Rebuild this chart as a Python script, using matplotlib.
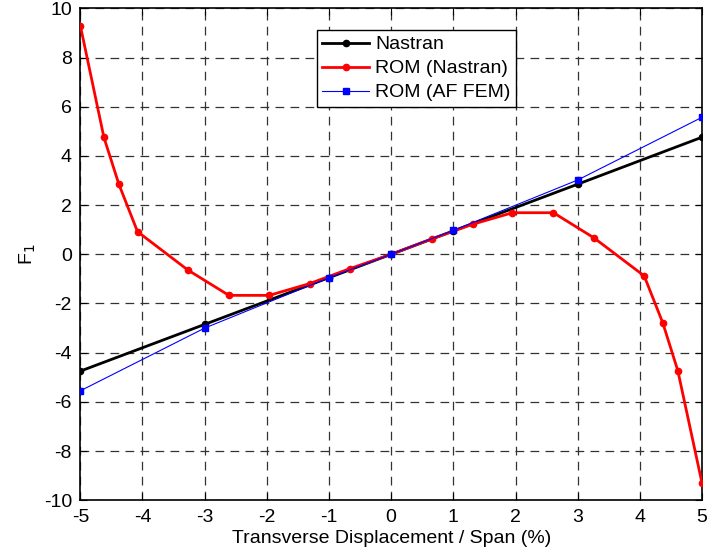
import matplotlib
matplotlib.use("Agg")
import matplotlib.pyplot as plt
import numpy as np

plt.rcParams["font.family"] = ["Liberation Sans", "DejaVu Sans"]
plt.rcParams["axes.unicode_minus"] = False

# Nastran reference
nastran_x = [-5, -3, -1, 0, 1, 3, 5]
nastran_y = [-4.75, -2.85, -0.95, 0.0, 0.95, 2.85, 4.76]

# ROM built from Nastran
rom_nas_x = [-5, -4.62, -4.38, -4.08, -3.27, -2.61, -1.96, -1.31, -0.66, 0,
             0.65, 1.31, 1.95, 2.61, 3.26, 4.07, 4.37, 4.61, 5]
rom_nas_y = [9.3, 4.75, 2.85, 0.92, -0.64, -1.67, -1.67, -1.19, -0.58, 0.0,
             0.62, 1.22, 1.69, 1.69, 0.67, -0.88, -2.8, -4.73, -9.31]

# ROM built from AF FEM
rom_af_x = [-5, -3, -1, 0, 1, 3, 5]
rom_af_y = [-5.55, -3.0, -0.95, 0.0, 0.97, 3.02, 5.57]

xticks = np.arange(-5, 6, 1)
yticks = np.arange(-10, 11, 2)

fig = plt.figure(figsize=(7.07, 5.54), dpi=100)
ax = fig.add_axes([0.1136, 0.097, 0.993 - 0.1136, 0.985 - 0.097])

ax.plot(nastran_x, nastran_y, color="black", lw=2, marker="o", ms=4.5,
        label="Nastran", zorder=3)
ax.plot(rom_nas_x, rom_nas_y, color="red", lw=2, marker="o", ms=4.5,
        label="ROM (Nastran)", zorder=4)
ax.plot(rom_af_x, rom_af_y, color="blue", lw=0.8, marker="s", ms=4,
        label="ROM (AF FEM)", zorder=5)

ax.set_xlim(-5, 5)
ax.set_ylim(-10, 10)
ax.set_xticks(xticks)
ax.set_yticks(yticks)
ax.tick_params(direction="in", top=True, right=True, labelsize=14, length=5,
               pad=6)
ax.grid(True, color="#333333", linestyle=(0, (7, 5)), linewidth=0.9)
for s in ax.spines.values():
    s.set_linewidth(1.2)

ax.set_xlabel("Transverse Displacement / Span (%)", fontsize=14, labelpad=3)
ax.set_ylabel("F$_1$", fontsize=14, labelpad=4)

leg = ax.legend(loc="upper left", bbox_to_anchor=(0.380, 0.956), fontsize=14,
                fancybox=False, edgecolor="black", framealpha=1,
                handlelength=2.4, handletextpad=0.3, borderpad=0.3,
                labelspacing=0.33, borderaxespad=0)
leg.get_frame().set_linewidth(1.0)

fig.savefig("out.png", dpi=100)
